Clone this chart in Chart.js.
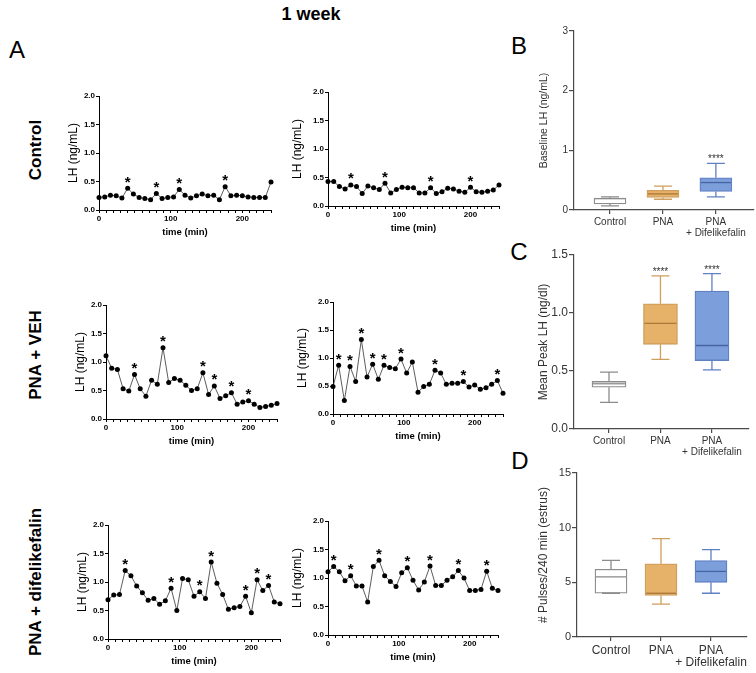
<!DOCTYPE html>
<html>
<head>
<meta charset="utf-8">
<script src="https://cdn.jsdelivr.net/npm/chart.js@4.4.0/dist/chart.umd.min.js"></script>
<style>
  body { margin: 0; background: #fff; width: 756px; height: 673px; overflow: hidden; position: relative; font-family: "Liberation Sans", Arial, sans-serif; }
  canvas { position: absolute; }
  .t { position: absolute; white-space: nowrap; color: #000; transform: translate(-50%, -50%); }
  .rot { transform: translate(-50%, -50%) rotate(-90deg); font-weight: bold; font-size: 17px; }
  .letter { font-size: 24px; }
</style>
</head>
<body>
<div class="t" style="left:311px;top:14px;font-weight:bold;font-size:18px">1 week</div>
<div class="t letter" style="left:17px;top:50px">A</div>
<div class="t letter" style="left:519px;top:46px">B</div>
<div class="t letter" style="left:519px;top:252px">C</div>
<div class="t letter" style="left:520px;top:461px">D</div>
<div class="t rot" style="left:36px;top:150px">Control</div>
<div class="t rot" style="left:36px;top:355px">PNA + VEH</div>
<div class="t rot" style="left:36px;top:582px">PNA + difelikefalin</div>

<canvas id="c1"></canvas>
<canvas id="c2"></canvas>
<canvas id="v1"></canvas>
<canvas id="v2"></canvas>
<canvas id="d1"></canvas>
<canvas id="d2"></canvas>
<canvas id="boxB"></canvas>
<canvas id="boxC"></canvas>
<canvas id="boxD"></canvas>

<script>
// sampling times (min)
const minutes = [0, 8, 16, 24, 32, 40, 48, 56, 64, 72, 80, 88, 96, 104, 112, 120,
  128, 136, 144, 152, 160, 168, 176, 184, 192, 200, 208, 216, 224, 232, 240];

// LH (ng/mL) per animal
const ctrlLeft = [0.22, 0.23, 0.26, 0.25, 0.21, 0.38, 0.28, 0.22, 0.20, 0.18, 0.29, 0.20, 0.22, 0.23, 0.36, 0.26,
  0.21, 0.25, 0.28, 0.25, 0.26, 0.18, 0.41, 0.25, 0.26, 0.25, 0.23, 0.22, 0.22, 0.22, 0.49];
const ctrlRight = [0.43, 0.43, 0.34, 0.30, 0.37, 0.34, 0.22, 0.35, 0.32, 0.29, 0.40, 0.23, 0.29, 0.33, 0.32, 0.32,
  0.23, 0.23, 0.32, 0.22, 0.25, 0.31, 0.30, 0.26, 0.24, 0.33, 0.25, 0.24, 0.26, 0.28, 0.37];
const vehLeft = [1.11, 0.89, 0.87, 0.53, 0.49, 0.78, 0.53, 0.40, 0.68, 0.61, 1.25, 0.64, 0.71, 0.68, 0.59, 0.50,
  0.53, 0.81, 0.43, 0.58, 0.36, 0.41, 0.46, 0.26, 0.30, 0.32, 0.26, 0.20, 0.22, 0.24, 0.27];
const vehRight = [0.49, 0.87, 0.24, 0.85, 0.58, 1.33, 0.66, 0.89, 0.62, 0.87, 0.83, 0.81, 0.98, 0.73, 0.93, 0.39,
  0.49, 0.53, 0.78, 0.73, 0.53, 0.55, 0.55, 0.58, 0.48, 0.52, 0.44, 0.47, 0.53, 0.60, 0.37];
const difLeft = [0.69, 0.77, 0.78, 1.20, 1.11, 0.93, 0.81, 0.68, 0.71, 0.61, 0.67, 0.89, 0.50, 1.06, 1.04, 0.75,
  0.83, 0.71, 1.35, 0.98, 0.78, 0.52, 0.55, 0.57, 0.75, 0.46, 1.04, 0.85, 0.94, 0.65, 0.62];
const difRight = [1.11, 1.20, 1.11, 0.95, 1.04, 0.86, 0.86, 0.58, 1.20, 1.31, 1.04, 0.94, 0.85, 1.09, 1.18, 0.96,
  0.79, 0.93, 1.21, 0.87, 0.87, 0.96, 1.02, 1.13, 1.00, 0.78, 0.78, 0.80, 1.12, 0.82, 0.78];

// pulses (indices of the samples marked with *)
const ctrlLeftPulses = [5, 10, 14, 22];
const ctrlRightPulses = [4, 10, 18, 25];
const vehLeftPulses = [5, 10, 17, 19, 22, 25];
const vehRightPulses = [1, 3, 5, 7, 9, 12, 18, 23, 29];
const difLeftPulses = [3, 11, 16, 18, 24, 26, 28];
const difRightPulses = [1, 4, 9, 14, 18, 23, 28];

// box plots: [min, q1, median, q3, max] for Control, PNA, PNA + Difelikefalin
const groups = [['Control'], ['PNA'], ['PNA', '+ Difelikefalin']];
const baselineLH = [[0.07, 0.10, 0.19, 0.20, 0.22], [0.18, 0.21, 0.27, 0.33, 0.40], [0.22, 0.31, 0.46, 0.54, 0.78]];
const peakLH = [[0.23, 0.36, 0.39, 0.41, 0.49], [0.60, 0.73, 0.91, 1.08, 1.32], [0.51, 0.59, 0.72, 1.19, 1.34]];
const pulsesPer240 = [[4, 4, 5.5, 6.2, 7], [3, 3.8, 4, 6.7, 9], [4, 5, 6, 7, 8]];
const baselineSig = ['', '', '****'];
const peakSig = ['', '****', '****'];

const boxFill = ['#ffffff', 'rgb(230,177,105)', 'rgb(124,158,218)'];
const boxEdge = ['rgb(140,140,140)', 'rgb(206,158,92)', 'rgb(96,128,196)'];
const boxMid = ['rgb(140,140,140)', 'rgb(170,120,55)', 'rgb(70,100,165)'];
const axisGray = '#4a4a4a';

Chart.defaults.font.family = '"Liberation Sans", Arial, sans-serif';

function starMarks(idx) {
  return {
    id: 'starMarks',
    afterDatasetsDraw(chart) {
      const meta = chart.getDatasetMeta(0);
      const ctx = chart.ctx;
      ctx.save();
      ctx.fillStyle = '#000';
      ctx.font = 'bold 15px "Liberation Sans", Arial';
      ctx.textAlign = 'center';
      idx.forEach(i => {
        const p = meta.data[i];
        ctx.fillText('*', p.x, p.y - 1.5);
      });
      ctx.restore();
    }
  };
}

function lhChart(id, frame, values, stars, padL) {
  const [l, r, t, b] = frame;
  const padT = 10, padR = 8, padB = 28;
  const c = document.getElementById(id);
  c.style.left = (l - padL) + 'px';
  c.style.top = (t - padT) + 'px';
  c.width = Math.round(r - l + padL + padR);
  c.height = Math.round(b - t + padT + padB);
  new Chart(c, {
    type: 'line',
    data: {
      datasets: [{
        data: minutes.map((m, i) => ({ x: m, y: values[i] })),
        borderColor: '#333',
        borderWidth: 0.8,
        pointRadius: 2.5,
        pointBackgroundColor: '#000',
        pointBorderWidth: 0,
        tension: 0,
        clip: false
      }]
    },
    options: {
      responsive: false,
      animation: false,
      events: [],
      layout: { padding: { top: padT, right: padR, left: 0, bottom: 0 } },
      plugins: { legend: { display: false }, tooltip: { enabled: false } },
      scales: {
        x: {
          type: 'linear', min: 0, max: 240,
          afterFit: s => { s.height = padB; },
          ticks: {
            stepSize: 10, autoSkip: false, maxRotation: 0, padding: 1, color: '#000',
            font: { size: 8, weight: 'bold' },
            callback: v => (v % 100 === 0 ? v : '')
          },
          grid: { drawOnChartArea: false, tickLength: 3, color: '#000' },
          border: { color: '#000', width: 1 },
          title: { display: true, text: 'time (min)', color: '#000', font: { size: 9.5, weight: 'bold' }, padding: 0 }
        },
        y: {
          min: 0, max: 2,
          afterFit: s => { s.width = padL; },
          ticks: {
            stepSize: 0.5, padding: 1, color: '#000',
            font: { size: 8, weight: 'bold' },
            callback: v => v.toFixed(1)
          },
          grid: { drawOnChartArea: false, tickLength: 3, color: '#000' },
          border: { color: '#000', width: 1 },
          title: { display: true, text: 'LH (ng/mL)', color: '#000', font: { size: 12 }, padding: 0 }
        }
      }
    },
    plugins: [starMarks(stars)]
  });
}

// [axis left, axis right (240 min), y of 2.0, y of 0]
lhChart('c1', [99.3, 271, 95.7, 210], ctrlLeft, ctrlLeftPulses, 33);
lhChart('c2', [327.7, 498.8, 91.7, 205.7], ctrlRight, ctrlRightPulses, 38);
lhChart('v1', [105.7, 276.8, 305, 419], vehLeft, vehLeftPulses, 33);
lhChart('v2', [332.7, 502.4, 301.7, 414], vehRight, vehRightPulses, 38);
lhChart('d1', [108.3, 280, 525, 639.3], difLeft, difLeftPulses, 33);
lhChart('d2', [327.7, 497.3, 520.7, 635], difRight, difRightPulses, 38);

const xMin = -0.68, xMax = 2.72;

function whiskers(stats, sig, bar) {
  return {
    id: 'whiskers',
    afterDatasetsDraw(chart) {
      const { ctx } = chart;
      const x = chart.scales.x, y = chart.scales.y;
      const cap = 9;
      ctx.save();
      ctx.lineWidth = 1.3;
      stats.forEach((s, i) => {
        const cx = x.getPixelForValue(i);
        const py = s.map(v => y.getPixelForValue(v));
        ctx.strokeStyle = boxEdge[i];
        ctx.beginPath();
        ctx.moveTo(cx, py[0]); ctx.lineTo(cx, py[1]);
        ctx.moveTo(cx, py[3]); ctx.lineTo(cx, py[4]);
        ctx.moveTo(cx - cap, py[0]); ctx.lineTo(cx + cap, py[0]);
        ctx.moveTo(cx - cap, py[4]); ctx.lineTo(cx + cap, py[4]);
        ctx.stroke();
        ctx.strokeStyle = boxMid[i];
        ctx.beginPath();
        ctx.moveTo(cx - bar / 2 + 1, py[2]); ctx.lineTo(cx + bar / 2 - 1, py[2]);
        ctx.stroke();
        if (sig && sig[i]) {
          ctx.fillStyle = '#333';
          ctx.font = '10px "Liberation Sans", Arial';
          ctx.textAlign = 'center';
          ctx.fillText(sig[i], cx, py[4] - 1);
        }
      });
      ctx.restore();
    }
  };
}

function boxChart(id, frame, stats, sig, o) {
  const [l, step, t, b, yW] = frame;
  const padT = 12, padR = 8, xH = 40;
  const w = (xMax - xMin) * step;
  const c = document.getElementById(id);
  c.style.left = (l - yW) + 'px';
  c.style.top = (t - padT) + 'px';
  c.width = Math.round(yW + w + padR);
  c.height = Math.round(padT + b - t + xH);
  new Chart(c, {
    type: 'bar',
    data: {
      datasets: [{
        data: stats.map((s, i) => ({ x: i, y: [s[1], s[3]] })),
        backgroundColor: boxFill,
        borderColor: boxEdge,
        borderWidth: 1.3,
        borderSkipped: false,
        barThickness: o.bar
      }]
    },
    options: {
      responsive: false,
      animation: false,
      events: [],
      layout: { padding: { top: padT, right: padR, left: 0, bottom: 0 } },
      plugins: { legend: { display: false }, tooltip: { enabled: false } },
      scales: {
        x: {
          type: 'linear', min: xMin, max: xMax, offset: false,
          afterBuildTicks: s => { s.ticks = stats.map((_, i) => ({ value: i })); },
          afterFit: s => { s.height = xH; },
          ticks: {
            autoSkip: false, maxRotation: 0, padding: 3, color: '#333',
            font: { size: o.catSize, lineHeight: 1.05 },
            callback: v => groups[v]
          },
          grid: { drawOnChartArea: false, offset: false, tickLength: 4, color: axisGray, lineWidth: 1.2 },
          border: { color: axisGray, width: 1.2 }
        },
        y: {
          min: 0, max: o.max,
          afterFit: s => { s.width = yW; },
          ticks: {
            stepSize: o.step, padding: 1, color: '#333',
            font: { size: o.tickSize },
            callback: v => v.toFixed(o.digits)
          },
          grid: { drawOnChartArea: false, tickLength: 5, color: axisGray, lineWidth: 1.2 },
          border: { color: axisGray, width: 1.2 },
          title: { display: true, text: o.title, color: '#333', font: { size: o.titleSize }, padding: 0 }
        }
      }
    },
    plugins: [whiskers(stats, sig, o.bar)]
  });
}

// [axis left, px per group, y of top tick, y of 0, y-axis width]
boxChart('boxB', [574, 53, 30.7, 210, 36], baselineLH, baselineSig,
  { max: 3, step: 1, digits: 0, title: 'Baseline LH (ng/mL)', titleSize: 10.5, tickSize: 10, catSize: 10, bar: 32 });
boxChart('boxC', [574, 51.5, 255.3, 429.3, 38], peakLH, peakSig,
  { max: 1.5, step: 0.5, digits: 1, title: 'Mean Peak LH (ng/dl)', titleSize: 12, tickSize: 12, catSize: 10, bar: 34 });
boxChart('boxD', [577, 50, 472.7, 636.7, 41], pulsesPer240, null,
  { max: 15, step: 5, digits: 0, title: '# Pulses/240 min (estrus)', titleSize: 12, tickSize: 11, catSize: 12, bar: 32 });
</script>
</body>
</html>
